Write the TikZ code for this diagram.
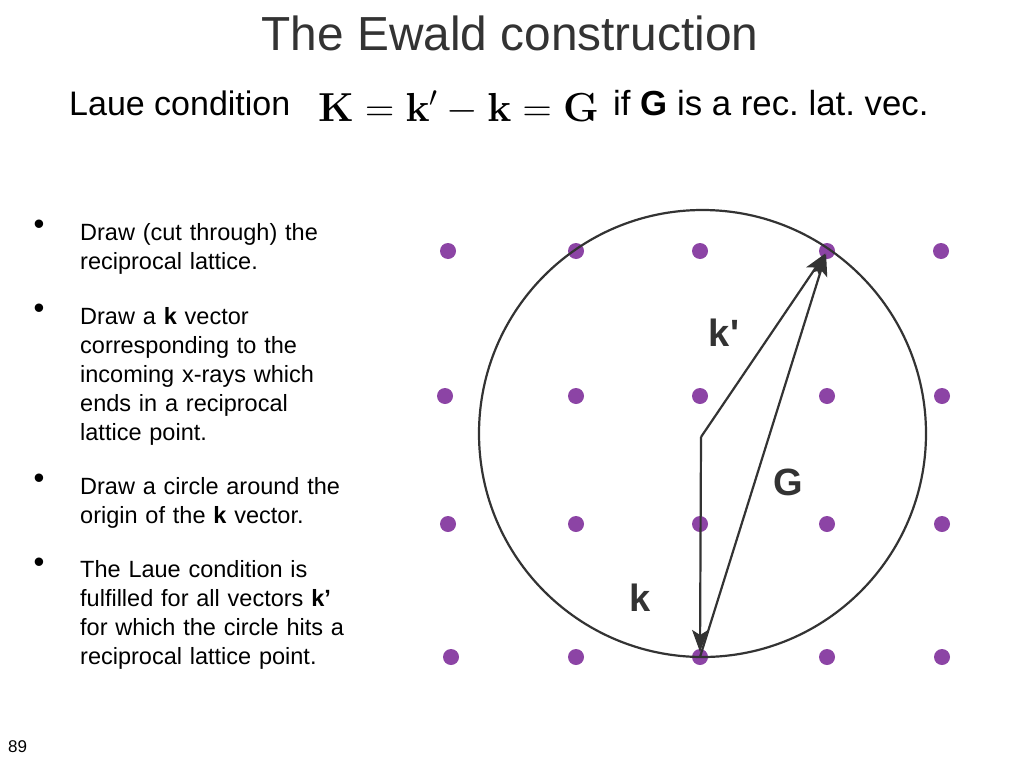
\documentclass[tikz,border=0pt]{standalone}
\usepackage{fix-cm}
\usepackage[no-math]{fontspec}
\setmainfont{Liberation Sans}
\usetikzlibrary{arrows.meta}
\frenchspacing
\definecolor{latpurple}{RGB}{140,68,165}
\definecolor{ink}{RGB}{51,51,51}
\tikzset{
  latdot/.style={circle,fill=latpurple,inner sep=0pt,minimum size=16pt},
  vec/.style={draw=ink,line width=2.2pt,-{Stealth[length=22pt,width=16pt,inset=5pt]}},
  veclabel/.style={text=ink,font=\fontsize{38}{44}\selectfont\bfseries,inner sep=0pt},
  bullettext/.style={anchor=base west,inner sep=0pt,text width=330pt,align=left,font=\fontsize{23.5}{29}\selectfont},
  bulletmark/.style={inner sep=0pt,anchor=base,font=\fontsize{31}{33}\selectfont},
  plain/.style={inner sep=0pt,anchor=base west}
}
\begin{document}
\begin{tikzpicture}[x=1pt,y=-1pt]
\useasboundingbox (0,0) rectangle (1024,768);
% title
\node[inner sep=0pt,anchor=base,text=ink,font=\fontsize{47.8}{55}\selectfont] (title) at (510,51) {The Ewald construction};
% Laue condition line
\node[plain,font=\fontsize{34}{40}\selectfont] (laue) at (69,115) {Laue condition};
\node[plain,font=\fontsize{40.5}{46}\selectfont] (eq) at (318,121) {$\mathbf{K}=\mathbf{k}'-\mathbf{k}=\mathbf{G}$};
\node[plain,font=\fontsize{34.8}{40}\selectfont] (ifg) at (613,115) {if \textbf{G} is a rec. lat. vec.};
% bullets
\node[bulletmark] (b1) at (39,234) {•};
\node[bulletmark] (b2) at (39,318) {•};
\node[bulletmark] (b3) at (39,488) {•};
\node[bulletmark] (b4) at (39,572) {•};
\node[bullettext] (t1) at (80,240) {Draw (cut through) the\\reciprocal lattice.};
\node[bullettext] (t2) at (80,324) {Draw a \textbf{k} vector\\corresponding to the\\incoming x-rays which\\ends in a reciprocal\\lattice point.};
\node[bullettext] (t3) at (80,494) {Draw a circle around the\\origin of the \textbf{k} vector.};
\node[bullettext] (t4) at (80,577) {The Laue condition is\\fulfilled for all vectors \textbf{k’}\\for which the circle hits a\\reciprocal lattice point.};
% page number
\node[plain,font=\fontsize{17}{20}\selectfont] (pg) at (8,752) {89};
% lattice
\node[latdot] (d11) at (448,251) {};
\node[latdot] (d12) at (576,251) {};
\node[latdot] (d13) at (700,251) {};
\node[latdot] (d14) at (827,251) {};
\node[latdot] (d15) at (941,251) {};
\node[latdot] (d21) at (445,396) {};
\node[latdot] (d22) at (576,396) {};
\node[latdot] (d23) at (700,396) {};
\node[latdot] (d24) at (827,396) {};
\node[latdot] (d25) at (942,396) {};
\node[latdot] (d31) at (448,524) {};
\node[latdot] (d32) at (576,524) {};
\node[latdot] (d33) at (700,524) {};
\node[latdot] (d34) at (827,524) {};
\node[latdot] (d35) at (942,524) {};
\node[latdot] (d41) at (451,657) {};
\node[latdot] (d42) at (576,657) {};
\node[latdot] (d43) at (700,657) {};
\node[latdot] (d44) at (827,657) {};
\node[latdot] (d45) at (942,657) {};
% Ewald circle
\coordinate (C) at (702.5,433.5);
\draw[ink,line width=2.2pt] (C) circle[radius=223.5];
% vectors
\coordinate (O) at (701,437);
\draw[vec,shorten >=3pt] (O) -- (d14.center);
\draw[vec,shorten >=5pt] (O) -- (d43.center);
\draw[vec,shorten >=3pt] (d43.center) -- (d14.center);
% labels
\node[veclabel] (lkp) at (724,333) {k\textquotesingle};
\node[veclabel] (lg) at (788,482) {G};
\node[veclabel] (lk) at (640,598) {k};
\end{tikzpicture}
\end{document}
